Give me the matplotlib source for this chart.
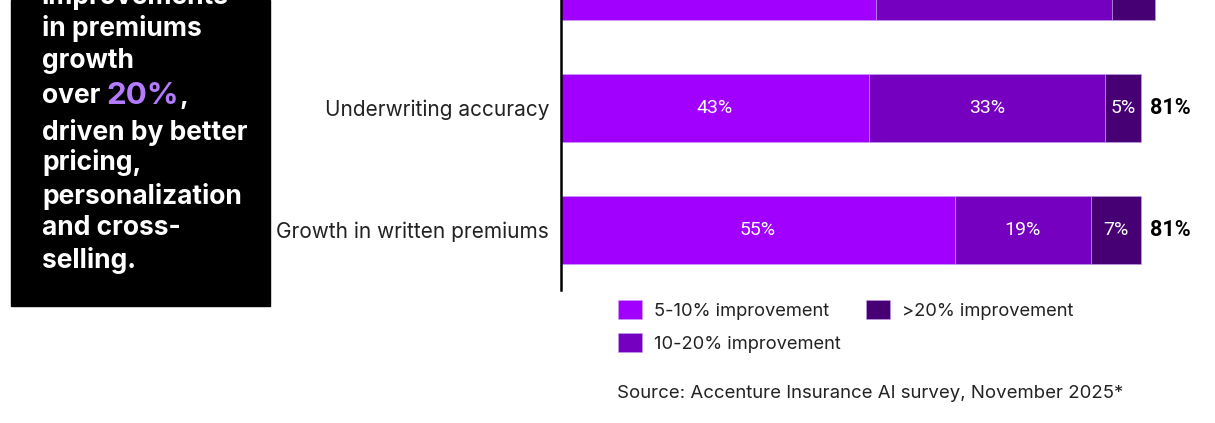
import matplotlib.pyplot as plt
from matplotlib.patches import Rectangle
from matplotlib import font_manager

categories = ["Growth in written premiums", "Underwriting accuracy", "Customer retention"]
low = [55, 43, 44]      # 5-10% improvement
mid = [19, 33, 33]      # 10-20% improvement
high = [7, 5, 6]        # >20% improvement
totals = ["81%", "81%", "83%"]
series_names = ["5-10% improvement", "10-20% improvement", ">20% improvement"]
colors = ["#A100FF", "#7500C0", "#460073"]

names = {f.name for f in font_manager.fontManager.ttflist}
narrow = "Liberation Sans Narrow" if "Liberation Sans Narrow" in names else "Roboto"
plt.rcParams["font.family"] = ["Inter", "DejaVu Sans"]

W, H = 1215, 423
fig = plt.figure(figsize=(W / 100, H / 100), dpi=100)

# main bar axes (top bar is cut off by the frame, like the source)
ax = fig.add_axes([561 / W, (H - 290) / H, 644 / W, 290 / H])
ymin, ymax = -0.492, 1.885
ypos = list(range(len(categories)))
lefts = [0] * len(categories)
for vals, col, name in zip([low, mid, high], colors, series_names):
    bars = ax.barh(ypos, vals, left=lefts, height=0.557, color=col,
                   edgecolor="#C9A0F0", linewidth=0.4, label=name)
    for b, v, y in zip(bars, vals, ypos):
        if y > ymax - 0.3:
            continue
        ax.text(b.get_x() + b.get_width() / 2, y,
                f"{v}%", ha="center", va="center", color="white",
                fontsize=14, family=narrow)
    lefts = [a + v for a, v in zip(lefts, vals)]

for y, l, t in zip(ypos, lefts, totals):
    if y > ymax - 0.3:
        continue
    ax.text(l + 1.3, y, t, ha="left", va="center", color="black",
            fontsize=15.5, fontweight="bold", family=narrow)

ax.set_xticks([])
ax.set_yticks(ypos)
ax.set_yticklabels(categories, fontsize=15, color="#222222")
ax.set_xlim(0, 90)
ax.set_ylim(ymin, ymax)
ax.tick_params(axis="y", length=0, pad=8.5)
for s in ["top", "right", "bottom"]:
    ax.spines[s].set_visible(False)
ax.spines["left"].set_linewidth(1.8)
ax.spines["left"].set_color("black")

# legend
handles, labels = ax.get_legend_handles_labels()
fig.legend(handles, labels, ncol=2, loc="upper left",
           bbox_to_anchor=(601 / W, (H - 284) / H), frameon=False,
           fontsize=13.2, handlelength=1.35, handleheight=1.2,
           handletextpad=0.65, columnspacing=1.35, labelspacing=0.7,
           labelcolor="#222222")

fig.text(617 / W, 1 - 393 / H, "Source: Accenture Insurance AI survey, November 2025*",
         ha="left", va="center", fontsize=13.4, color="#222222")

# black callout box
fig.patches.append(Rectangle((11 / W, 1 - 306 / H), 259 / W, 306 / H,
                             transform=fig.transFigure, color="black", zorder=0))
box_lines = ["improvements", "in premiums", "growth", None, "driven by better",
             "pricing,", "personalization", "and cross-", "selling."]
line_y = [-4, 28, 61, 96, 132, 163, 196, 228, 261]
for txt, yy in zip(box_lines, line_y):
    if txt is None:
        t1 = fig.text(42 / W, 1 - yy / H, "over ", ha="left", va="center",
                      fontsize=19, fontweight="bold", color="white")
        fig.canvas.draw()
        bb = t1.get_window_extent()
        t2 = fig.text(bb.x1 / W, 1 - yy / H, "20%", ha="left", va="center",
                      fontsize=22.5, fontweight="bold", color="#B57BFF")
        fig.canvas.draw()
        bb2 = t2.get_window_extent()
        fig.text(bb2.x1 / W, 1 - yy / H, ",", ha="left", va="center",
                 fontsize=19, fontweight="bold", color="white")
    else:
        fig.text(42 / W, 1 - yy / H, txt, ha="left", va="center",
                 fontsize=19, fontweight="bold", color="white")

fig.savefig("out.png", dpi=100)
